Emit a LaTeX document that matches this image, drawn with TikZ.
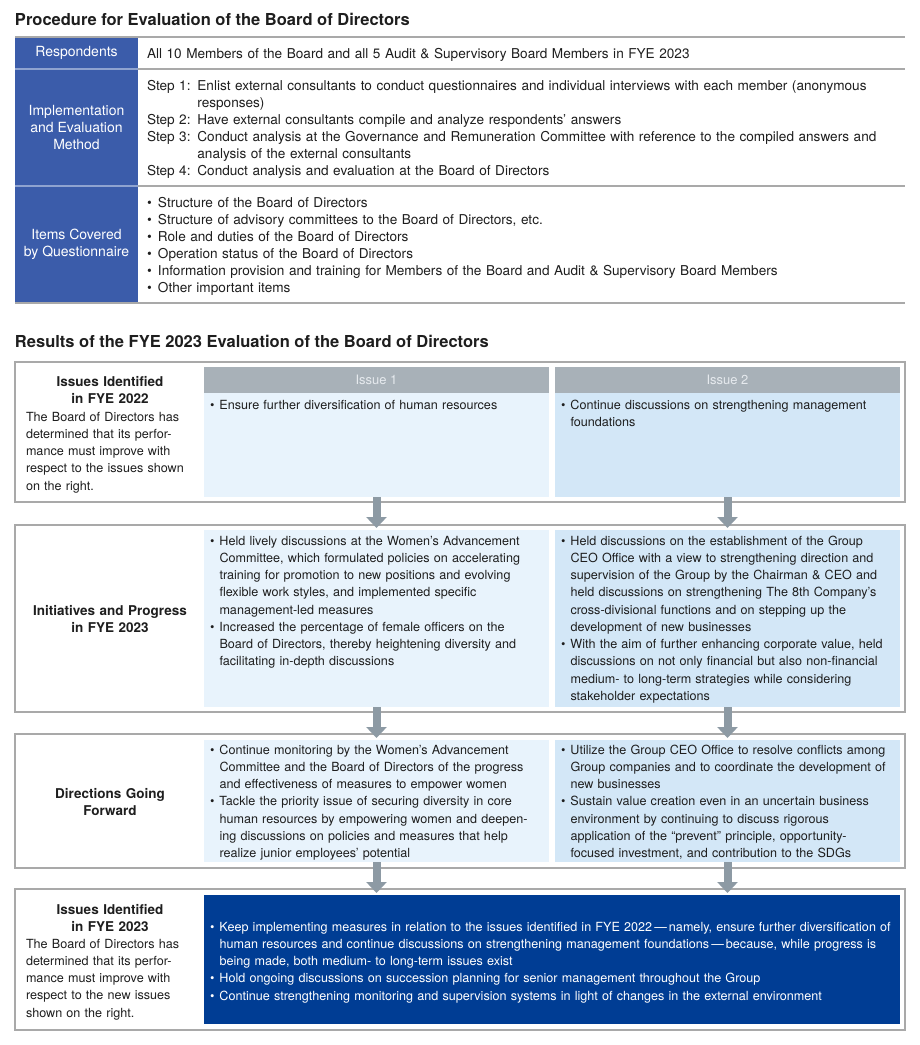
\documentclass[tikz,border=0pt]{standalone}
\usepackage{fontspec}
\setmainfont{TeX Gyre Heros}
\usetikzlibrary{arrows.meta}
\definecolor{tblue}{HTML}{3B5CAA}
\definecolor{tsep}{HTML}{8FA3D0}
\definecolor{ihead}{HTML}{A8B1B8}
\definecolor{iheadtxt}{HTML}{E6EAEE}
\definecolor{bodyA}{HTML}{E8F3FC}
\definecolor{bodyB}{HTML}{D3E7F7}
\definecolor{dblue}{HTML}{003D94}
\definecolor{arrc}{HTML}{8D9AA4}
\definecolor{framec}{HTML}{A9A9A9}
\definecolor{txtc}{HTML}{1E1E1E}
\newcommand{\bl}{\makebox[9.5pt][l]{•}}
\newcommand{\ind}{\hspace*{9.5pt}}
\newcommand{\tbl}{\makebox[11pt][l]{•}}
\begin{document}
\begin{tikzpicture}[x=1pt,y=-1pt,
  every node/.style={inner sep=0pt,outer sep=0pt},
  box/.style={anchor=north west,rectangle},
  frm/.style={box,draw=framec,line width=1.3pt,minimum width=890},
  hd/.style={box,fill=ihead,minimum width=345,minimum height=26,text=iheadtxt,font=\fontsize{13}{17.2}\selectfont},
  txt/.style={anchor=base west,text width=#1,align=left,text=txtc,font=\fontsize{12.6}{17.25}\selectfont},
  ttxt/.style={anchor=base west,text width=#1,align=left,text=txtc,font=\fontsize{13.6}{17}\selectfont},
  lbl/.style={anchor=base,text width=200,align=center,text=txtc,font=\bfseries\fontsize{13.5}{17.2}\selectfont},
  ttl/.style={anchor=base west,text=txtc,font=\bfseries\fontsize{16.5}{20}\selectfont},
  tcell/.style={box,fill=tblue,minimum width=123,text=white,align=center,font=\fontsize{14}{17}\selectfont},
  arr/.style={draw=arrc,line width=8pt,-{Triangle[width=20pt,length=11pt]},shorten >=2pt}
]
\fill[white] (0,0) rectangle (920,1045);
\useasboundingbox (0,0) rectangle (920,1045);

% ---------- Procedure table ----------
\node[ttl] (t1) at (15,25) {Procedure for Evaluation of the Board of Directors};
\node[tcell,minimum height=32] (rl) at (15,37) {Respondents};
\node[tcell,minimum height=117] (il) at (15,69) {Implementation\\and Evaluation\\Method};
\node[tcell,minimum height=117] (ql) at (15,186) {Items Covered\\by Questionnaire};
\draw[framec,line width=2pt] (15,37) -- (905,37);
\draw[framec,line width=1.3pt] (138,69) -- (905,69);
\draw[framec,line width=1.3pt] (138,186) -- (905,186);
\draw[framec,line width=1.5pt] (15,303) -- (905,303);
\draw[tsep,line width=1.3pt] (15,69) -- (138,69);
\draw[tsep,line width=1.3pt] (15,186) -- (138,186);

\node[ttxt=755] (rt) at (147,58) {All 10 Members of the Board and all 5 Audit \& Supervisory Board Members in FYE 2023};
\node[ttxt=755] (it) at (147,90) {Step 1: Enlist external consultants to conduct questionnaires and individual interviews with each member (anonymous\\
\hphantom{Step 1: }responses)\\
Step 2: Have external consultants compile and analyze respondents’ answers\\
Step 3: Conduct analysis at the Governance and Remuneration Committee with reference to the compiled answers and\\
\hphantom{Step 3: }analysis of the external consultants\\
Step 4: Conduct analysis and evaluation at the Board of Directors};
\node[ttxt=755] (qt) at (147,207) {\tbl Structure of the Board of Directors\\
\tbl Structure of advisory committees to the Board of Directors, etc.\\
\tbl Role and duties of the Board of Directors\\
\tbl Operation status of the Board of Directors\\
\tbl Information provision and training for Members of the Board and Audit \& Supervisory Board Members\\
\tbl Other important items};

% ---------- Results ----------
\node[ttl] (t2) at (15,347) {Results of the FYE 2023 Evaluation of the Board of Directors};

% Box 1
\node[frm,minimum height=140] (f1) at (15,362) {};
\node[hd] (h1) at (204,367) {Issue 1};
\node[hd] (h2) at (555,367) {Issue 2};
\node[box,fill=bodyA,minimum width=345,minimum height=104] (a1) at (204,393) {};
\node[box,fill=bodyB,minimum width=345,minimum height=104] (b1) at (555,393) {};
\node[lbl] (l1) at (110,386) {Issues Identified\\in FYE 2022};
\node[txt=178] (l1t) at (26,421) {The Board of Directors has\\determined that its perfor-\\mance must improve with\\respect to the issues shown\\on the right.};
\node[txt=340] (a1t) at (210,409) {\bl Ensure further diversification of human resources};
\node[txt=340] (b1t) at (561,409) {\bl Continue discussions on strengthening management\\\ind foundations};

% Box 2
\node[frm,minimum height=187] (f2) at (15,525) {};
\node[box,fill=bodyA,minimum width=345,minimum height=177] (a2) at (204,530) {};
\node[box,fill=bodyB,minimum width=345,minimum height=177] (b2) at (555,530) {};
\node[lbl] (l2) at (110,615) {Initiatives and Progress\\in FYE 2023};
\node[txt=340] (a2t) at (210,545) {\bl Held lively discussions at the Women’s Advancement\\
\ind Committee, which formulated policies on accelerating\\
\ind training for promotion to new positions and evolving\\
\ind flexible work styles, and implemented specific\\
\ind management-led measures\\
\bl Increased the percentage of female officers on the\\
\ind Board of Directors, thereby heightening diversity and\\
\ind facilitating in-depth discussions};
\node[txt=340] (b2t) at (561,545) {\bl Held discussions on the establishment of the Group\\
\ind CEO Office with a view to strengthening direction and\\
\ind supervision of the Group by the Chairman \& CEO and\\
\ind held discussions on strengthening The 8th Company’s\\
\ind cross-divisional functions and on stepping up the\\
\ind development of new businesses\\
\bl With the aim of further enhancing corporate value, held\\
\ind discussions on not only financial but also non-financial\\
\ind medium- to long-term strategies while considering\\
\ind stakeholder expectations};

% Box 3
\node[frm,minimum height=134] (f3) at (15,734) {};
\node[box,fill=bodyA,minimum width=345,minimum height=122] (a3) at (204,740) {};
\node[box,fill=bodyB,minimum width=345,minimum height=122] (b3) at (555,740) {};
\node[lbl] (l3) at (110,798) {Directions Going\\Forward};
\node[txt=340] (a3t) at (210,754) {\bl Continue monitoring by the Women’s Advancement\\
\ind Committee and the Board of Directors of the progress\\
\ind and effectiveness of measures to empower women\\
\bl Tackle the priority issue of securing diversity in core\\
\ind human resources by empowering women and deepen-\\
\ind ing discussions on policies and measures that help\\
\ind realize junior employees’ potential};
\node[txt=340] (b3t) at (561,754) {\bl Utilize the Group CEO Office to resolve conflicts among\\
\ind Group companies and to coordinate the development of\\
\ind new businesses\\
\bl Sustain value creation even in an uncertain business\\
\ind environment by continuing to discuss rigorous\\
\ind application of the “prevent” principle, opportunity-\\
\ind focused investment, and contribution to the SDGs};

% Box 4
\node[frm,minimum height=141] (f4) at (15,889) {};
\node[box,fill=dblue,minimum width=696,minimum height=129] (k) at (204,895) {};
\node[lbl] (l4) at (110,914) {Issues Identified\\in FYE 2023};
\node[txt=178] (l4t) at (26,948) {The Board of Directors has\\determined that its perfor-\\mance must improve with\\respect to the new issues\\shown on the right.};
\node[txt=720,text=white] (kt) at (210,931) {\bl Keep implementing measures in relation to the issues identified in FYE 2022\,—\,namely, ensure further diversification of\\
\ind human resources and continue discussions on strengthening management foundations\,—\,because, while progress is\\
\ind being made, both medium- to long-term issues exist\\
\bl Hold ongoing discussions on succession planning for senior management throughout the Group\\
\bl Continue strengthening monitoring and supervision systems in light of changes in the external environment};

% Arrows
\draw[arr] (a1.south) -- (a2.north);
\draw[arr] (b1.south) -- (b2.north);
\draw[arr] (a2.south) -- (a3.north);
\draw[arr] (b2.south) -- (b3.north);
\draw[arr] (a3.south) -- (a3.south |- k.north);
\draw[arr] (b3.south) -- (b3.south |- k.north);
\end{tikzpicture}
\end{document}
